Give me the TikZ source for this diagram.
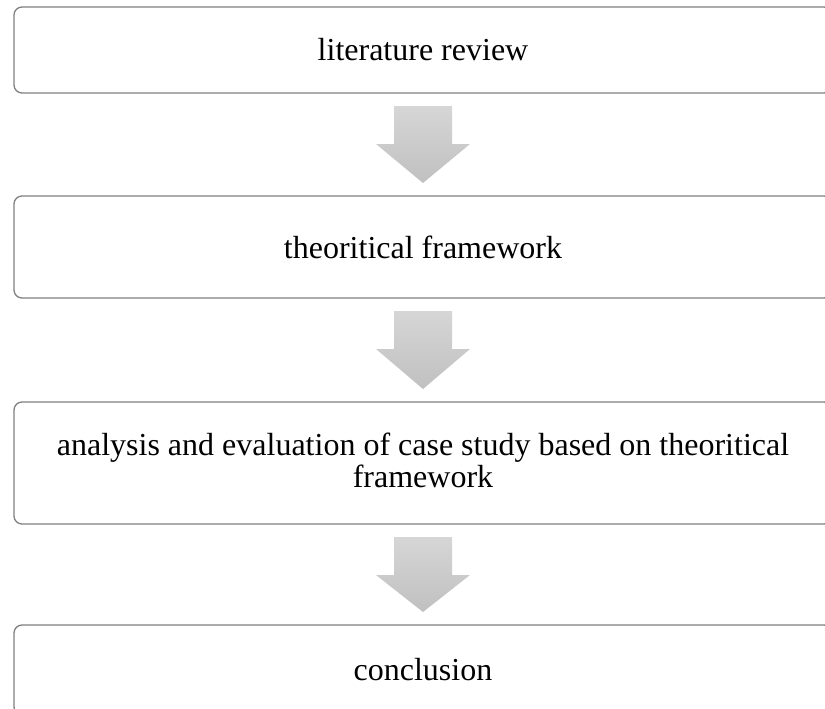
\documentclass[tikz,border=0pt]{standalone}
\usepackage{fontspec}
\setmainfont{Liberation Serif}
\usetikzlibrary{calc}
\definecolor{boxline}{RGB}{128,128,128}
\definecolor{arrowtop}{RGB}{214,214,214}
\definecolor{arrowbottom}{RGB}{192,192,192}
\begin{document}
\begin{tikzpicture}[x=1pt,y=-1pt,
  stage/.style={draw=boxline, line width=1.3pt, rounded corners=8pt,
    minimum width=818pt, inner sep=0pt, outer sep=0pt, align=center,
    font=\fontsize{32}{32}\selectfont},
  flowarrow/.style={top color=arrowtop, bottom color=arrowbottom, draw=none}]
\useasboundingbox (0,0) rectangle (825,709);
\clip (0,0) rectangle (825,709);

% process stages
\node[stage, minimum height=86pt]  (b1) at (423,50)  {literature review};
\node[stage, minimum height=102pt] (b2) at (423,247) {theoritical framework};
\node[stage, minimum height=122pt] (b3) at (423,463)
  {analysis and evaluation of case study based on theoritical\\framework\rule[-6pt]{0pt}{6pt}};
\node[stage, minimum height=90pt]  (b4) at (423,670) {conclusion};

% block arrows between consecutive stages
\foreach \src/\dst in {b1/b2,b2/b3,b3/b4}
  \shade[flowarrow] let \p1=(\src.south), \p2=(\dst.north) in
    (\x1-29pt,\y1-13pt) -- (\x1+29pt,\y1-13pt) -- (\x1+29pt,\y1-51pt)
    -- (\x1+47pt,\y1-51pt) -- (\x1,\y2+13pt) -- (\x1-47pt,\y1-51pt)
    -- (\x1-29pt,\y1-51pt) -- cycle;
\end{tikzpicture}
\end{document}
